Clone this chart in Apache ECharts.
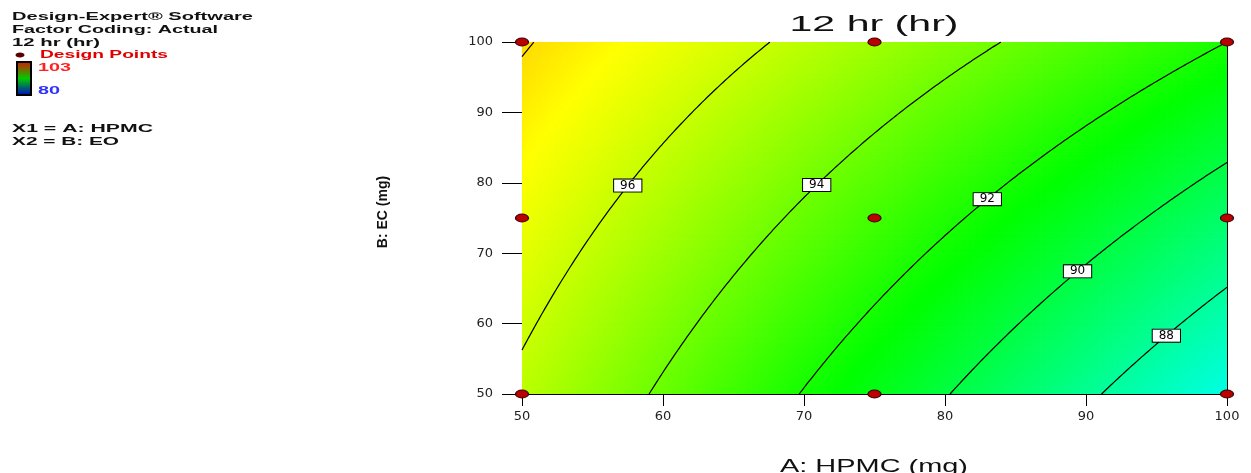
<!DOCTYPE html>
<html>
<head>
<meta charset="utf-8">
<script src="https://cdn.jsdelivr.net/npm/echarts@6/dist/echarts.min.js"></script>
<style>
  html, body { margin: 0; padding: 0; background: #ffffff; }
  #chart { width: 1251px; height: 473px; }
</style>
</head>
<body>
<div id="chart"></div>
<script>
// Factor levels of the 3x3 design (mg)
const hpmcLevels = [50, 75, 100];
const ecLevels = [50, 75, 100];
// Predicted 12 hr release at each design point, one array per HPMC level, ordered by EC level
const releaseAtHpmc50 = [95.7, 96.9, 98.1];
const releaseAtHpmc75 = [91.0, 93.0, 95.1];
const releaseAtHpmc100 = [86.35, 89.1, 92.0];
// Contour levels drawn, and the ones carrying a value label
const contourLevels = [88, 90, 92, 94, 96, 98];
const labelledLevels = [96, 94, 92, 90, 88];
// Shared tick values of both factor axes
const axisTicks = [50, 60, 70, 80, 90, 100];
// Response range of the colour scale
const colourRange = [80, 103];

const responseGrid = [releaseAtHpmc50, releaseAtHpmc75, releaseAtHpmc100];

// Quadratic response surface through the 3x3 design (coded units -1..1)
function weights(t) { return [t * (t - 1) / 2, 1 - t * t, t * (t + 1) / 2]; }
function coded(v, levels) { return (v - levels[1]) / ((levels[2] - levels[0]) / 2); }
function response(A, B) {
  const wa = weights(coded(A, hpmcLevels));
  const wb = weights(coded(B, ecLevels));
  let s = 0;
  for (let i = 0; i < 3; i++) for (let j = 0; j < 3; j++) s += wa[i] * wb[j] * responseGrid[i][j];
  return s;
}

const axMin = axisTicks[0];
const axMax = axisTicks[axisTicks.length - 1];
const axStep = axisTicks[1] - axisTicks[0];

// EC value where the response reaches `level` at a given HPMC (response rises with EC)
function solveB(A, level) {
  let lo = axMin, hi = axMax;
  if (response(A, lo) > level || response(A, hi) < level) return null;
  for (let k = 0; k < 50; k++) {
    const mid = (lo + hi) / 2;
    if (response(A, mid) < level) lo = mid; else hi = mid;
  }
  return (lo + hi) / 2;
}
// HPMC value where the response reaches `level` along a given EC (response falls with HPMC)
function solveA(B, level) {
  let lo = axMin, hi = axMax;
  if (response(lo, B) < level || response(hi, B) > level) return null;
  for (let k = 0; k < 50; k++) {
    const mid = (lo + hi) / 2;
    if (response(mid, B) > level) lo = mid; else hi = mid;
  }
  return (lo + hi) / 2;
}
function contourPath(level) {
  const pts = [];
  const n = 600;
  for (let i = 0; i <= n; i++) {
    const A = axMin + (axMax - axMin) * i / n;
    const B = solveB(A, level);
    if (B !== null) pts.push([A, B]);
  }
  [axMin, axMax].forEach(function (B) {
    const A = solveA(B, level);
    if (A !== null) pts.push([A, B]);
  });
  pts.sort(function (p, q) { return p[0] - q[0]; });
  return pts;
}

// Filled surface cells
const cellA = 0.25, cellB = 0.5;
const cells = [];
for (let i = 0; i < (axMax - axMin) / cellA; i++) {
  for (let j = 0; j < (axMax - axMin) / cellB; j++) {
    const A = axMin + (i + 0.5) * cellA;
    const B = axMin + (j + 0.5) * cellB;
    cells.push([A, B, response(A, B)]);
  }
}

// HPMC position of each contour value label
const labelHpmc = { 96: 57.5, 94: 70.9, 92: 83.0, 90: 89.4, 88: 95.7 };
const labelPoints = labelledLevels.map(function (L) {
  const A = labelHpmc[L];
  return [A, solveB(A, L), L];
});

const designPoints = [];
hpmcLevels.forEach(function (A) { ecLevels.forEach(function (B) { designPoints.push([A, B]); }); });

// Horizontally stretched text blocks
const measure = document.createElement('canvas').getContext('2d');
const sans = '"Liberation Sans", Arial, sans-serif';
function stretchedText(text, x, y, width, fill, font, align) {
  measure.font = font;
  const sx = width / measure.measureText(text).width;
  return {
    type: 'text', x: x, y: y, scaleX: sx, silent: true, z: 10,
    style: { text: text, font: font, fill: fill, textAlign: align || 'left', textVerticalAlign: 'middle' }
  };
}
const legendFont = 'bold 10px ' + sans;

const series = [];
series.push({
  type: 'custom',
  coordinateSystem: 'cartesian2d',
  data: cells,
  encode: { x: 0, y: 1 },
  clip: true,
  silent: true,
  progressive: 0,
  z: 1,
  renderItem: function (params, api) {
    const A = api.value(0), B = api.value(1);
    const p0 = api.coord([A - cellA / 2, B + cellB / 2]);
    const p1 = api.coord([A + cellA / 2, B - cellB / 2]);
    return {
      type: 'rect',
      shape: { x: p0[0], y: p0[1], width: p1[0] - p0[0] + 0.7, height: p1[1] - p0[1] + 0.7 },
      style: { fill: api.visual('color') }
    };
  }
});
contourLevels.forEach(function (L) {
  series.push({
    type: 'line',
    data: contourPath(L),
    showSymbol: false,
    symbol: 'none',
    silent: true,
    clip: true,
    z: 3,
    lineStyle: { color: '#000000', width: 1.2 }
  });
});
series.push({
  type: 'scatter',
  data: labelPoints,
  symbol: 'rect',
  symbolSize: 1,
  itemStyle: { color: 'rgba(0,0,0,0)', opacity: 1 },
  silent: true,
  z: 4,
  label: {
    show: true,
    position: 'inside',
    formatter: function (p) { return String(p.value[2]); },
    color: '#000000',
    fontFamily: 'DejaVu Sans',
    fontSize: 12,
    lineHeight: 12,
    backgroundColor: '#ffffff',
    borderColor: '#000000',
    borderWidth: 1,
    padding: [0, 6, 0, 6]
  }
});
series.push({
  type: 'scatter',
  data: designPoints,
  symbol: 'circle',
  symbolSize: [13, 8],
  clip: false,
  silent: true,
  z: 6,
  itemStyle: { color: '#bb0000', borderColor: '#3a0000', borderWidth: 1, opacity: 1 }
});

const axisLabelStyle = { color: '#222222', fontSize: 13, fontFamily: 'DejaVu Sans' };
const frameAxis = {
  type: 'value', min: axMin, max: axMax, interval: axStep,
  axisLine: { show: true, lineStyle: { color: '#000000', width: 1 } },
  axisTick: { show: false }, axisLabel: { show: false }, splitLine: { show: false }
};

const option = {
  animation: false,
  backgroundColor: '#ffffff',
  grid: { left: 522, right: 24, top: 42, bottom: 79, containLabel: false },
  xAxis: [
    {
      type: 'value', min: axMin, max: axMax, interval: axStep, position: 'bottom',
      axisLine: { show: true, onZero: false, lineStyle: { color: '#000000', width: 1 } },
      axisTick: { show: true, length: 12, lineStyle: { color: '#000000' } },
      axisLabel: Object.assign({ margin: 16 }, axisLabelStyle),
      splitLine: { show: false }
    },
    Object.assign({ position: 'top' }, frameAxis)
  ],
  yAxis: [
    {
      type: 'value', min: axMin, max: axMax, interval: axStep, position: 'left',
      axisLine: { show: true, onZero: false, lineStyle: { color: '#000000', width: 1 } },
      axisTick: { show: true, length: 20, lineStyle: { color: '#000000' } },
      axisLabel: Object.assign({ margin: 29 }, axisLabelStyle),
      splitLine: { show: false }
    },
    Object.assign({ position: 'right' }, frameAxis)
  ],
  visualMap: {
    show: false,
    type: 'continuous',
    min: colourRange[0],
    max: colourRange[1],
    dimension: 2,
    seriesIndex: 0,
    inRange: { color: ['#0000ff', '#00ffff', '#00ff00', '#ffff00', '#ff0000'] }
  },
  graphic: [
    stretchedText('Design-Expert® Software', 12, 17, 241, '#111111', legendFont),
    stretchedText('Factor Coding: Actual', 12, 30, 206, '#111111', legendFont),
    stretchedText('12 hr (hr)', 12, 43, 88, '#111111', legendFont),
    { type: 'ellipse', shape: { cx: 20, cy: 55, rx: 4.5, ry: 2.5 }, style: { fill: '#5a0000' }, silent: true },
    stretchedText('Design Points', 40, 55, 128, '#e00000', legendFont),
    {
      type: 'rect', shape: { x: 17, y: 62, width: 14, height: 33 }, silent: true,
      style: {
        stroke: '#000000', lineWidth: 2,
        fill: { type: 'linear', x: 0, y: 0, x2: 0, y2: 1, colorStops: [
          { offset: 0, color: '#e01000' }, { offset: 0.5, color: '#00cc00' }, { offset: 1, color: '#0000cc' }
        ] }
      }
    },
    stretchedText('103', 38, 68, 33, '#ff2020', legendFont),
    stretchedText('80', 38, 91, 22, '#3030ff', legendFont),
    stretchedText('X1 = A: HPMC', 12, 129, 141, '#111111', legendFont),
    stretchedText('X2 = B: EO', 12, 142, 107, '#111111', legendFont),
    stretchedText('12 hr (hr)', 874, 25, 169, '#111111', '22px ' + sans, 'center'),
    stretchedText('A: HPMC (mg)', 874, 467, 188, '#111111', '19px ' + sans, 'center'),
    {
      type: 'text', x: 383, y: 212, rotation: Math.PI / 2, silent: true,
      style: { text: 'B: EC (mg)', font: 'bold 14px ' + sans, fill: '#111111', textAlign: 'center', textVerticalAlign: 'middle' }
    }
  ],
  series: series
};

const chart = echarts.init(document.getElementById('chart'), null, { renderer: 'canvas' });
chart.setOption(option);
</script>
</body>
</html>
